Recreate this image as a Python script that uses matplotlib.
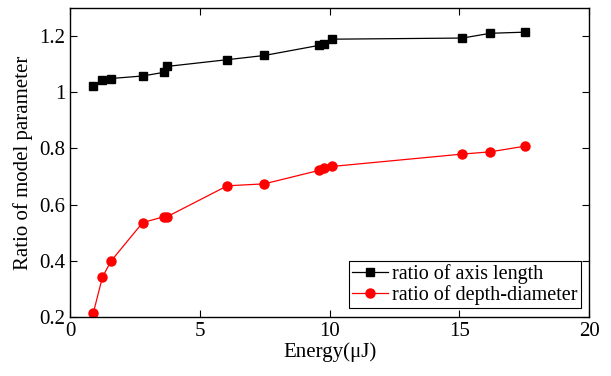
import matplotlib
matplotlib.use("Agg")
import matplotlib.pyplot as plt

# data
energy = [0.90, 1.25, 1.58, 2.80, 3.62, 3.74, 6.06, 7.49, 9.60, 9.80, 10.11, 15.12, 16.20, 17.52]
axis_ratio = [1.023, 1.042, 1.049, 1.058, 1.071, 1.092, 1.116, 1.131, 1.167, 1.172, 1.189, 1.193, 1.210, 1.214]
depth_ratio = [0.215, 0.342, 0.399, 0.536, 0.557, 0.557, 0.667, 0.674, 0.722, 0.731, 0.736, 0.780, 0.788, 0.808]

x_ticks = [0, 5, 10, 15, 20]
y_ticks = [0.2, 0.4, 0.6, 0.8, 1.0, 1.2]
y_tick_labels = ["0.2", "0.4", "0.6", "0.8", "1", "1.2"]

plt.rcParams['font.family'] = ['Liberation Serif', 'DejaVu Serif']

fig = plt.figure(figsize=(6.11, 3.76), dpi=100)
ax = fig.add_axes([70/611, 1 - 317/376, 519/611, 309/376])

ax.plot(energy, axis_ratio, color='black', marker='s', markersize=6, linewidth=0.9,
        label='ratio of axis length')
ax.plot(energy, depth_ratio, color='red', marker='o', markersize=6.5, linewidth=0.9,
        label='ratio of depth-diameter')

ax.set_xlim(0, 20)
ax.set_ylim(0.2, 1.3)
ax.set_xticks(x_ticks)
ax.set_yticks(y_ticks)
ax.set_yticklabels(y_tick_labels)
ax.tick_params(direction='in', top=True, right=True, labelsize=15, length=5, width=0.8)

ax.set_xlabel('Energy(μJ)', fontsize=15, labelpad=1)
ax.set_ylabel('Ratio of model parameter', fontsize=15, labelpad=4)

for s in ax.spines.values():
    s.set_linewidth(1.0)

leg = ax.legend(loc='lower right', bbox_to_anchor=(0.984, 0.03), fontsize=14.5,
                fancybox=False, shadow=False, edgecolor='black', framealpha=1,
                handlelength=1.8, handletextpad=0.2, borderpad=0.15,
                labelspacing=0.05, borderaxespad=0.0)
leg.get_frame().set_linewidth(0.8)

fig.savefig('out.png', dpi=100)
